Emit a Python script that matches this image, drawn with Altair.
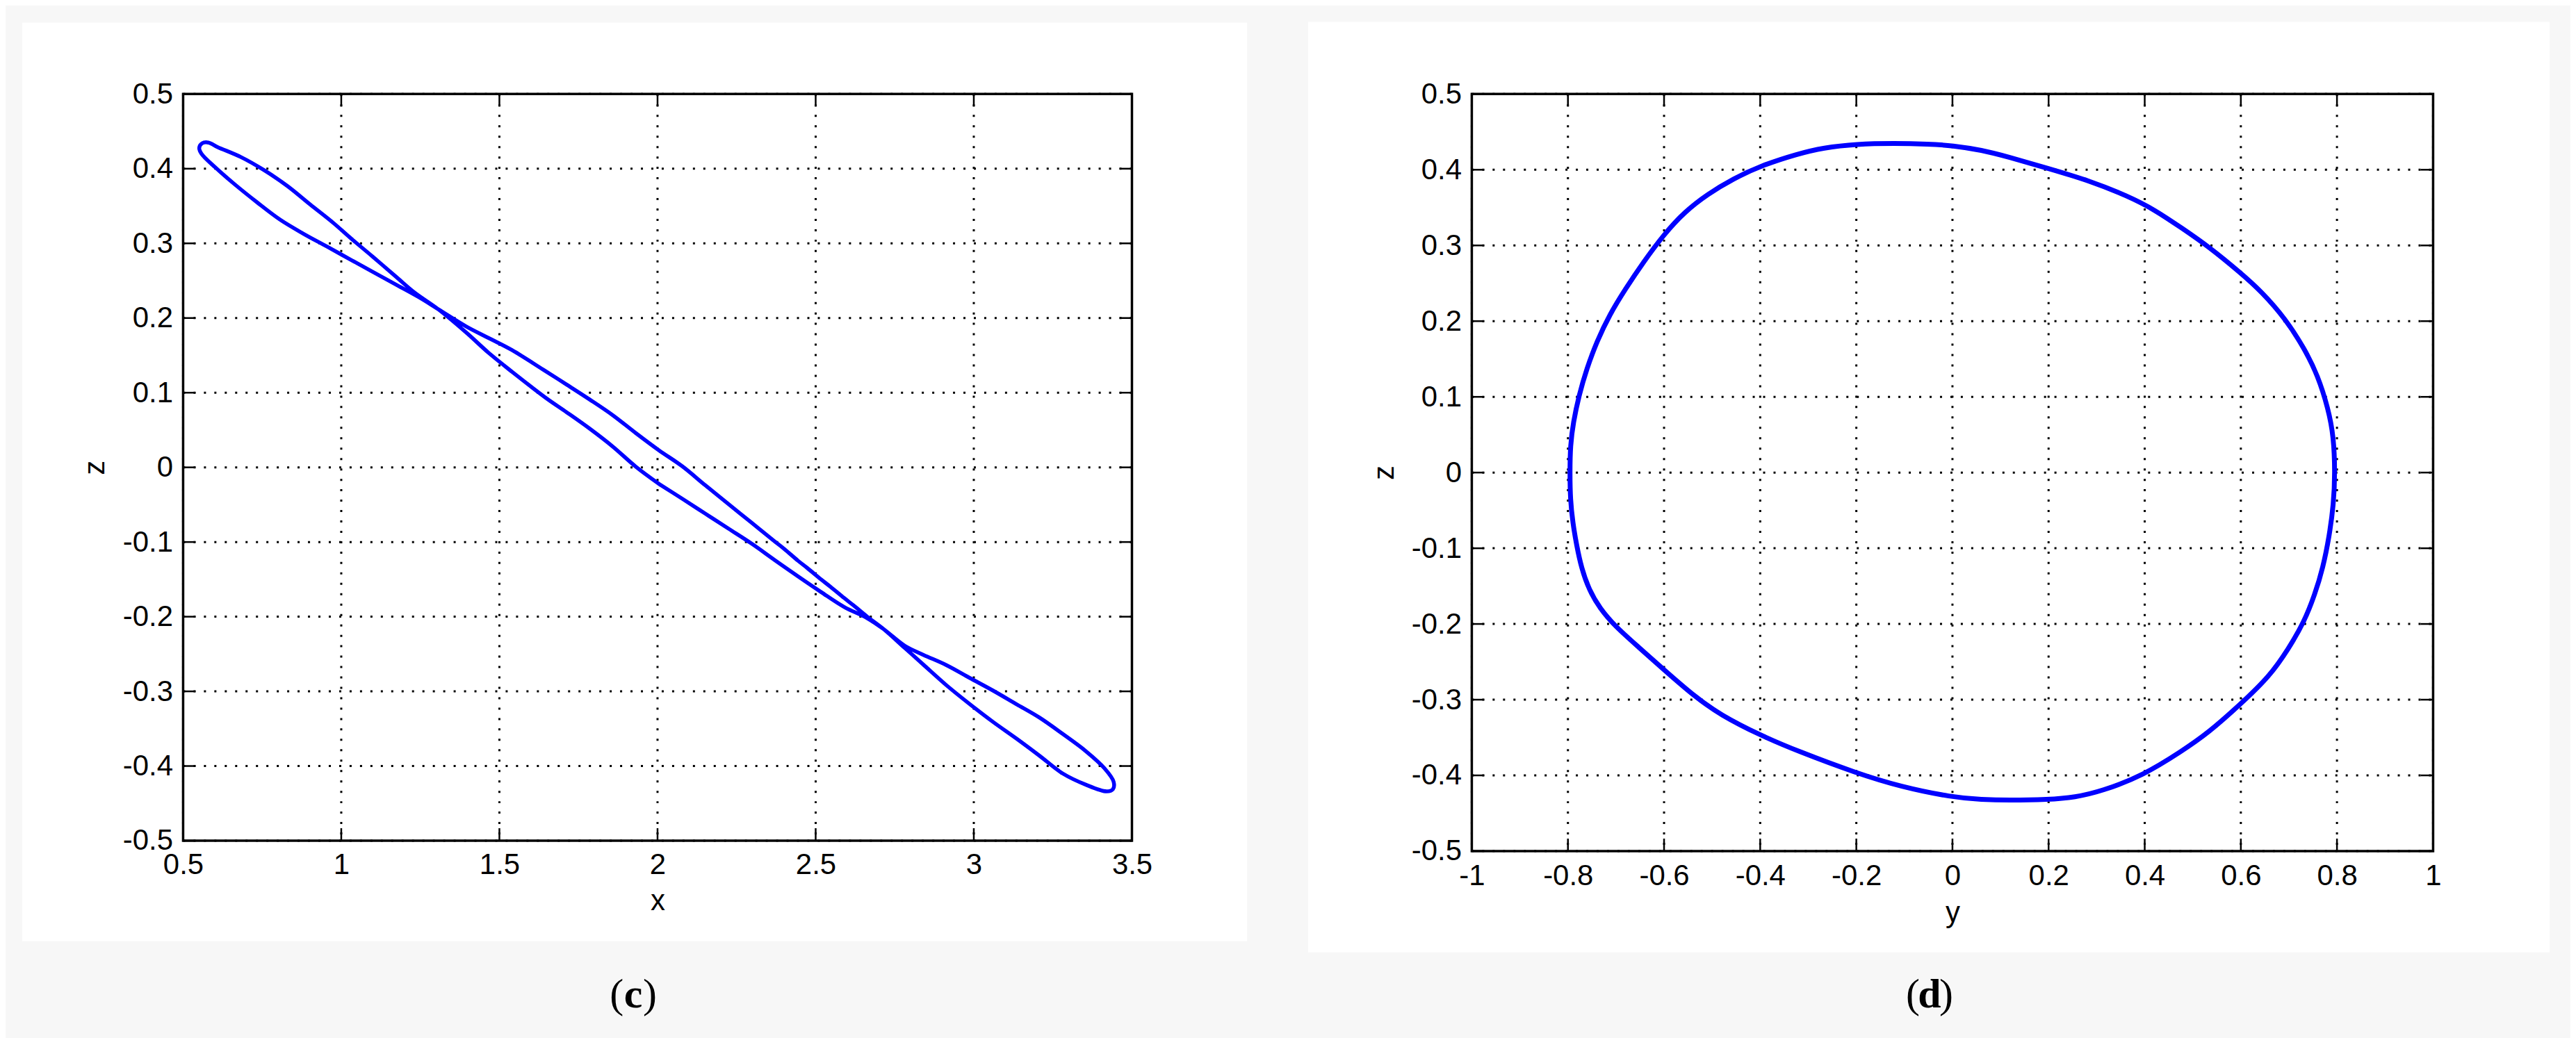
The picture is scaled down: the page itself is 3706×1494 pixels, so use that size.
import altair as alt
import pandas as pd

# ---------------- panel (c): x-z projection (closed orbit, traced) ----------------
c_x = [2.004, 2.078, 2.151, 2.224, 2.297,
       2.370, 2.444, 2.517, 2.590, 2.663, 2.716,
       2.782, 2.840, 2.914, 2.987, 3.061, 3.134, 3.207, 3.281, 3.354, 3.413, 3.442, 3.440,
       3.420, 3.354, 3.281, 3.207, 3.134, 3.061, 2.987, 2.914, 2.840, 2.782, 2.716,
       2.663, 2.620, 2.590, 2.547, 2.517, 2.474, 2.444, 2.400, 2.370, 2.297, 2.224, 2.151, 2.078,
       2.004, 1.931, 1.858, 1.785, 1.712, 1.638, 1.540, 1.467, 1.394, 1.306,
       1.247, 1.174, 1.100, 1.027, 0.954, 0.880, 0.807, 0.734, 0.661, 0.602, 0.558,
       0.551, 0.560, 0.580, 0.609, 0.683, 0.756, 0.829, 0.902, 0.976, 1.027, 1.100, 1.174, 1.232, 1.306,
       1.394, 1.467, 1.540, 1.647, 1.712, 1.785, 1.858, 1.931, 2.004]
c_z = [-0.022, -0.042, -0.062, -0.082, -0.102,
       -0.124, -0.146, -0.167, -0.187, -0.202, -0.217,
       -0.239, -0.251, -0.265, -0.282, -0.299, -0.317, -0.335, -0.357, -0.380, -0.403, -0.421, -0.431,
       -0.434, -0.425, -0.410, -0.386, -0.363, -0.341, -0.317, -0.292, -0.264, -0.242, -0.217,
       -0.200, -0.185, -0.175, -0.160, -0.150, -0.135, -0.125, -0.109, -0.099, -0.074, -0.049, -0.024, 0.0015,
       0.023, 0.046, 0.070, 0.091, 0.111, 0.131, 0.157, 0.173, 0.189, 0.212,
       0.2275, 0.2446, 0.2617, 0.2788, 0.2959, 0.313, 0.3316, 0.3549, 0.3798, 0.4016, 0.420,
       0.428, 0.434, 0.435, 0.429, 0.4155, 0.398, 0.377, 0.352, 0.327, 0.308, 0.282, 0.255, 0.234, 0.212,
       0.181, 0.153, 0.128, 0.093, 0.074, 0.052, 0.028, 0.001, -0.022]

# ---------------- panel (d): y-z projection (closed orbit, traced) ----------------
d_y = [0.0, 0.061, 0.116, 0.198, 0.283, 0.366, 0.421, 0.477, 0.532, 0.601, 0.643, 0.693, 0.732,
       0.760, 0.782, 0.793, 0.796, 0.793, 0.784, 0.771, 0.754, 0.732, 0.699, 0.660, 0.601, 0.532,
       0.477, 0.397, 0.310, 0.255, 0.200, 0.116, 0.061, 0.0,
       -0.108, -0.2, -0.322, -0.4, -0.483, -0.536, -0.601, -0.654, -0.702, -0.734, -0.756, -0.772,
       -0.782, -0.790, -0.795, -0.796, -0.795, -0.789, -0.777, -0.761, -0.740, -0.713, -0.681,
       -0.643, -0.601, -0.558, -0.509, -0.456, -0.4, -0.322, -0.269, -0.2, -0.12, -0.05]
d_z = [0.432, 0.426, 0.417, 0.402, 0.386, 0.365, 0.347, 0.323, 0.299, 0.263, 0.239, 0.203, 0.164,
       0.1285, 0.084, 0.048, 0.0, -0.042, -0.084, -0.1255, -0.161, -0.197, -0.233, -0.269, -0.305, -0.344,
       -0.368, -0.400, -0.421, -0.429, -0.432, -0.433, -0.432, -0.429,
       -0.415, -0.397, -0.368, -0.347, -0.320, -0.296, -0.260, -0.230, -0.203, -0.179, -0.155, -0.126,
       -0.096, -0.066, -0.036, 0.0, 0.036, 0.066, 0.102, 0.137, 0.173, 0.209, 0.242,
       0.278, 0.314, 0.344, 0.368, 0.388, 0.405, 0.421, 0.429, 0.434, 0.435, 0.434]

c_xticks = [0.5, 1, 1.5, 2, 2.5, 3, 3.5]
d_yticks = [-1, -0.8, -0.6, -0.4, -0.2, 0, 0.2, 0.4, 0.6, 0.8, 1]
z_ticks = [-0.5, -0.4, -0.3, -0.2, -0.1, 0, 0.1, 0.2, 0.3, 0.4, 0.5]

LABEL_FONT = "Liberation Sans"
CAP_FONT = "Liberation Serif"


def panel(hx, hz, xticks, xtitle, w, h, sw, interp, rect, letter, capx, capy,
          xlabpad, xtitlepad, ylabpad, ytitlepad):
    one = pd.DataFrame({"k": [0]})
    df = pd.DataFrame({"a": hx, "z": hz, "i": list(range(len(hx)))})
    xt = pd.DataFrame({"a": xticks})
    zt = pd.DataFrame({"z": z_ticks})
    xs = alt.Scale(domain=[xticks[0], xticks[-1]], nice=False, zero=False)
    ys = alt.Scale(domain=[z_ticks[0], z_ticks[-1]], nice=False, zero=False)
    xaxis = alt.Axis(
        values=xticks, grid=False, domain=False, ticks=False, tickSize=0, zindex=1,
        labelFont=LABEL_FONT, labelFontSize=42, labelColor="black", labelPadding=xlabpad,
        labelFlush=False, labelOverlap=False, labelExpr="'' + datum.value",
        title=xtitle, titleFont=LABEL_FONT, titleFontSize=42, titleFontWeight="normal",
        titleColor="black", titlePadding=xtitlepad)
    yaxis = alt.Axis(
        values=z_ticks, grid=False, domain=False, ticks=False, tickSize=0, zindex=1,
        labelFont=LABEL_FONT, labelFontSize=42, labelColor="black", labelPadding=ylabpad,
        labelFlush=False, labelOverlap=False, labelExpr="'' + datum.value",
        title="z", titleFont=LABEL_FONT, titleFontSize=42, titleFontWeight="normal",
        titleColor="black", titlePadding=ytitlepad)
    X = alt.X("a:Q", scale=xs, axis=xaxis)
    Y = alt.Y("z:Q", scale=ys, axis=yaxis)

    bg = alt.Chart(one).mark_rect(color="white").encode(
        x=alt.value(rect[0]), x2=alt.value(rect[1]), y=alt.value(rect[2]), y2=alt.value(rect[3]))

    dot = dict(color="black", strokeWidth=3, strokeDash=[3, 12])
    gx = alt.Chart(xt).mark_rule(**dot).encode(x=X, y=alt.value(0), y2=alt.value(h))
    gz = alt.Chart(zt).mark_rule(**dot).encode(y=Y, x=alt.value(0), x2=alt.value(w))

    line = alt.Chart(df).mark_line(color="#0000ff", strokeWidth=sw, interpolate=interp,
                                   strokeJoin="round", strokeCap="round").encode(
        x=X, y=Y, order="i:Q")

    tk = dict(color="black", strokeWidth=2.5)
    tb = alt.Chart(xt).mark_rule(**tk).encode(x=X, y=alt.value(h), y2=alt.value(h - 18))
    tt = alt.Chart(xt).mark_rule(**tk).encode(x=X, y=alt.value(0), y2=alt.value(18))
    tl = alt.Chart(zt).mark_rule(**tk).encode(y=Y, x=alt.value(0), x2=alt.value(18))
    tr = alt.Chart(zt).mark_rule(**tk).encode(y=Y, x=alt.value(w), x2=alt.value(w - 18))

    frame = alt.Chart(one).mark_rect(filled=False, stroke="black", strokeWidth=3.5).encode(
        x=alt.value(0), x2=alt.value(w), y=alt.value(0), y2=alt.value(h))

    fs = 60
    hw = 14
    c1 = alt.Chart(one).mark_text(text="(", font=CAP_FONT, fontSize=fs, align="right",
                                  baseline="middle", color="black").encode(
        x=alt.value(capx - hw), y=alt.value(capy))
    c2 = alt.Chart(one).mark_text(text=letter, font=CAP_FONT, fontSize=fs, fontWeight="bold",
                                  align="center", baseline="middle", color="black").encode(
        x=alt.value(capx), y=alt.value(capy))
    c3 = alt.Chart(one).mark_text(text=")", font=CAP_FONT, fontSize=fs, align="left",
                                  baseline="middle", color="black").encode(
        x=alt.value(capx + hw), y=alt.value(capy))

    return alt.layer(bg, gx, gz, line, tb, tt, tl, tr, frame, c1, c2, c3).properties(width=w, height=h)


left = panel(c_x, c_z, c_xticks, "x", 1368, 1077, 5.5, "catmull-rom", (-232, 1534, -103, 1222), "c",
             649, 1300, 15, 11, 15, 18)
right = panel(d_y, d_z, d_yticks, "y", 1386, 1092, 7, "basis-closed", (-236, 1554, -104, 1238), "d",
              660, 1300, 16, 12, 15, 17)

chart = alt.hconcat(left, right, spacing=88).properties(
    padding={"left": 24, "top": 22, "right": 30, "bottom": 30}
).configure(background="#f7f7f7").configure_view(strokeWidth=0)

chart.save("out.html", embed_options={"renderer": "svg", "actions": False})
